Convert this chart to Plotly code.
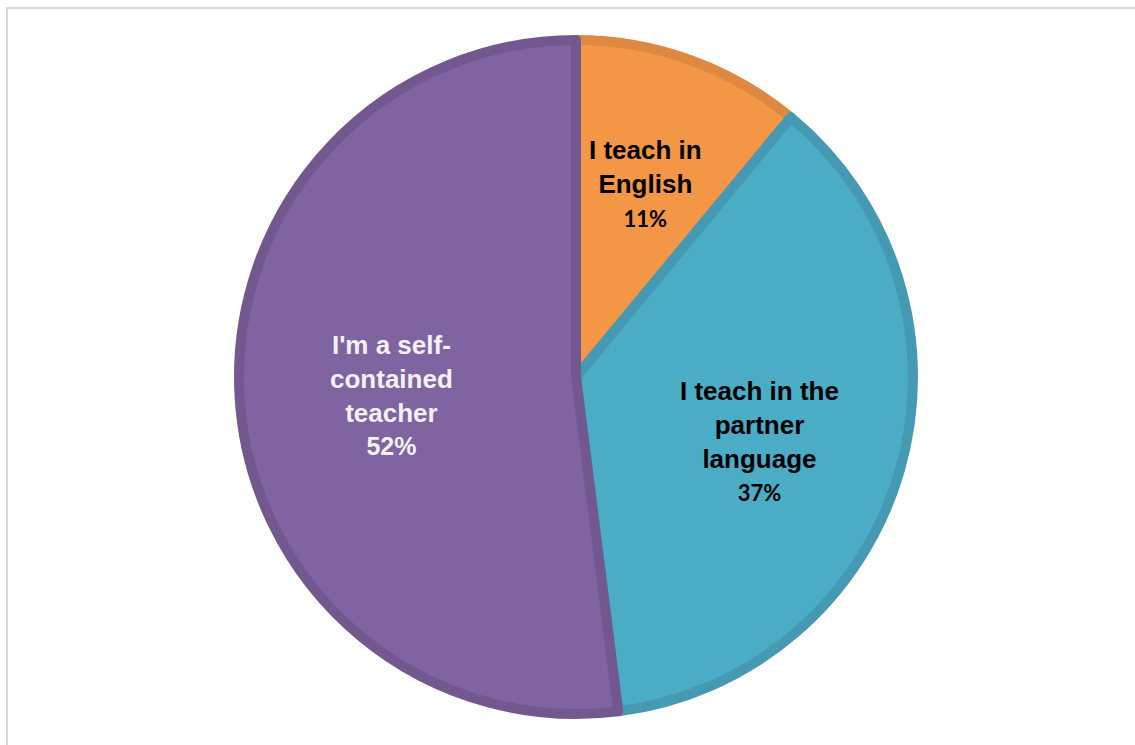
import math
import plotly.graph_objects as go

# ---- data ----
categories = ["I teach in<br>English", "I teach in the<br>partner<br>language", "I'm a self-<br>contained<br>teacher"]
values = [11, 37, 52]
fill_colors = ["#F39646", "#4BACC6", "#8064A2"]
edge_colors = ["#DF8842", "#4599B2", "#72588F"]
text_colors = ["#000000", "#000000", "#F2F2F2"]
pct_fonts = ["Lato", "Lato", "Arial"]
pct_sizes = [22, 22, 25]

W, H = 1135, 745
cx, cy, R = 576, 377, 337
line_w = 10

fig = go.Figure()
fig.add_trace(go.Pie(
    labels=categories,
    values=values,
    sort=False,
    direction="clockwise",
    rotation=0,
    textinfo="none",
    hoverinfo="label+percent",
    marker=dict(colors=fill_colors, line=dict(color=edge_colors, width=line_w)),
    domain=dict(x=[(cx - R) / W, (cx + R) / W], y=[(H - cy - R) / H, (H - cy + R) / H]),
    showlegend=False,
))

# labels placed along each slice's mid-angle
total = sum(values)
label_radius = [0.60, 0.56, 0.54]
label_yshift = [0, -11, -6]
cum = 0
for i, v in enumerate(values):
    mid = (cum + v / 2) / total
    cum += v
    th = 2 * math.pi * mid
    rr = label_radius[i] * (R + line_w / 2)
    px = cx + rr * math.sin(th)
    py = cy - rr * math.cos(th)
    pct = round(100 * v / total)
    txt = (f"<b>{categories[i]}</b><br>"
           f"<span style='font-family:{pct_fonts[i]};font-size:{pct_sizes[i]}px'><b>{pct}%</b></span>")
    fig.add_annotation(
        x=px / W, y=1 - py / H, xref="paper", yref="paper",
        text=txt, showarrow=False, xanchor="center", yanchor="middle",
        align="center", yshift=label_yshift[i],
        font=dict(family="Arial, Liberation Sans", size=26, color=text_colors[i]),
    )

# outer chart frame
fig.add_shape(type="rect", xref="paper", yref="paper",
              x0=7 / W, x1=1.02, y0=-0.02, y1=1 - 8 / H,
              line=dict(color="#D9D9D9", width=2), fillcolor="rgba(0,0,0,0)")

fig.update_layout(
    width=W, height=H,
    margin=dict(l=0, r=0, t=0, b=0),
    paper_bgcolor="white",
    plot_bgcolor="white",
)

fig.write_html("out.html")
